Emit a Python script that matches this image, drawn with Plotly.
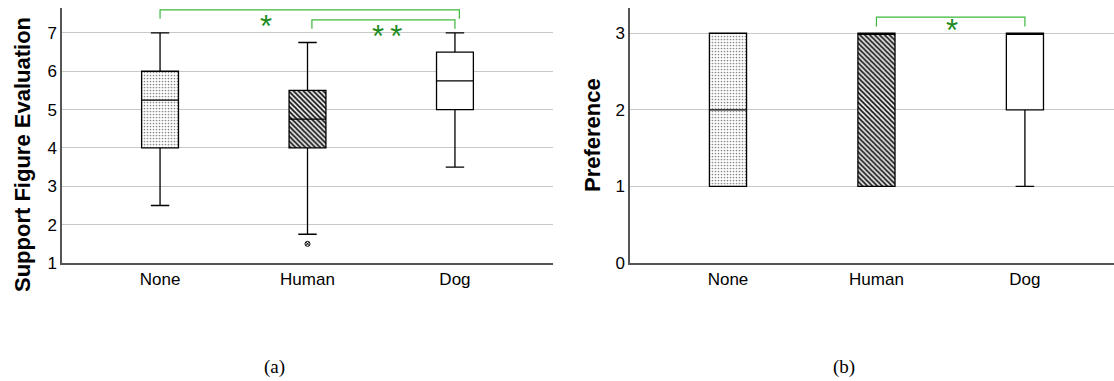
import plotly.graph_objects as go

# ---------------- data ----------------
categories = ["None", "Human", "Dog"]

# (a) Support Figure Evaluation
a_lower = [2.5, 1.75, 3.5]
a_q1 = [4.0, 4.0, 5.0]
a_median = [5.25, 4.75, 5.75]
a_q3 = [6.0, 5.5, 6.5]
a_upper = [7.0, 6.75, 7.0]
a_outlier_cat = [1]
a_outlier_val = [1.5]
a_ticks = [1, 2, 3, 4, 5, 6, 7]
a_sig = [(0, 2, "*"), (1, 2, "*\u2009*")]

# (b) Preference
b_lower = [1.0, 1.0, 1.0]
b_q1 = [1.0, 1.0, 2.0]
b_median = [2.0, 3.0, 3.0]
b_q3 = [3.0, 3.0, 3.0]
b_upper = [3.0, 3.0, 3.0]
b_ticks = [0, 1, 2, 3]
b_sig = [(1, 2, "*")]

# ---------------- style ----------------
SANS = "Liberation Sans, Arial, sans-serif"
SERIF = "Liberation Serif, Times New Roman, serif"
patterns = [
    dict(shape=".", fgcolor="#8a8a8a", bgcolor="white", size=3, solidity=0.25),
    dict(shape="\\", fgcolor="#111111", bgcolor="white", size=3.5, solidity=0.55),
    dict(shape="", fgcolor="white", bgcolor="white"),
]
BOXW = 0.25
BR_COLOR = "#3cb83c"
STAR_COLOR = "#1e8c1e"

fig = go.Figure()
xs = list(range(len(categories)))


def add_panel(xa, ya, lower, q1, med, q3, upper):
    for i in xs:
        fig.add_trace(go.Bar(
            x=[i], y=[q3[i] - q1[i]], base=[q1[i]], width=BOXW,
            marker=dict(color="white", pattern=patterns[i], line=dict(width=0)),
            xaxis=xa, yaxis=ya, showlegend=False, hoverinfo="skip"))
    fig.add_trace(go.Box(
        x=xs, q1=q1, median=med, q3=q3, lowerfence=lower, upperfence=upper,
        width=BOXW, whiskerwidth=0.5, fillcolor="rgba(0,0,0,0)",
        line=dict(color="black", width=1.3), boxpoints=False,
        xaxis=xa, yaxis=ya, showlegend=False))


add_panel("x", "y", a_lower, a_q1, a_median, a_q3, a_upper)
add_panel("x2", "y2", b_lower, b_q1, b_median, b_q3, b_upper)

fig.add_trace(go.Scatter(
    x=a_outlier_cat, y=a_outlier_val, mode="markers",
    marker=dict(symbol="circle-x-open", size=5, color="black", line=dict(width=1)),
    xaxis="x", yaxis="y", showlegend=False))


def add_brackets(xref, yref, sig, top, leg, step, star_off, star_dx):
    for k, (i, j, txt) in enumerate(sig):
        yb = top - k * step
        jr = j + (0.03 if k == 0 and len(sig) > 1 else 0)
        il = i + (0.03 if k == 1 else 0)
        fig.add_shape(type="path", xref=xref, yref=yref,
                      path=f"M {il},{yb - leg} L {il},{yb} L {jr},{yb} L {jr},{yb - leg}",
                      line=dict(color=BR_COLOR, width=1.2))
        xm = (i + j) / 2 + star_dx[k] if len(sig) == 1 or k > 0 else i + 0.72
        fig.add_annotation(x=xm, y=yb - star_off, xref=xref, yref=yref,
                           text=txt, showarrow=False,
                           font=dict(family=SANS, size=31, color=STAR_COLOR),
                           yanchor="middle", xanchor="center")


add_brackets("x", "y", a_sig, 7.6, 0.23, 0.26, 0.43, [0, 0.04])
add_brackets("x2", "y2", b_sig, 3.21, 0.12, 0.0, 0.17, [0.01])

axis_common = dict(showgrid=False, showline=True, linecolor="#555555", linewidth=1.5,
                   tickfont=dict(family=SANS, size=17, color="black"), ticks="",
                   zeroline=False, automargin=False)
yaxis_common = dict(showgrid=True, gridcolor="#c8c8c8", gridwidth=1.2, showline=True,
                    linecolor="#555555", linewidth=1.5, ticks="", zeroline=False,
                    automargin=False,
                    tickfont=dict(family=SANS, size=17, color="black"))

fig.update_layout(
    template="none",
    width=1114, height=381, margin=dict(l=0, r=0, t=0, b=0),
    plot_bgcolor="white", paper_bgcolor="white", barmode="overlay", bargap=0,
    xaxis=dict(domain=[62 / 1114, 553 / 1114], range=[-0.665, 2.665],
               tickvals=xs, ticktext=categories, anchor="y", **axis_common),
    yaxis=dict(domain=[118 / 381, 373 / 381], range=[1, 7.65], tickvals=a_ticks,
               anchor="x", **yaxis_common),
    xaxis2=dict(domain=[630 / 1114, 1.0], range=[-0.66, 2.6],
                tickvals=xs, ticktext=categories, anchor="y2", **axis_common),
    yaxis2=dict(domain=[118 / 381, 373 / 381], range=[0, 3.33], tickvals=b_ticks,
                anchor="x2", **yaxis_common),
)

fig.add_annotation(text="<b>Support Figure Evaluation</b>", textangle=-90,
                   x=22 / 1114, y=(381 - 155) / 381, xref="paper", yref="paper",
                   showarrow=False, xanchor="center", yanchor="middle",
                   font=dict(family=SANS, size=22, color="black"))
fig.add_annotation(text="<b>Preference</b>", textangle=-90,
                   x=592 / 1114, y=(381 - 135) / 381, xref="paper", yref="paper",
                   showarrow=False, xanchor="center", yanchor="middle",
                   font=dict(family=SANS, size=22, color="black"))
fig.add_annotation(text="(a)", x=274 / 1114, y=(381 - 367) / 381, xref="paper", yref="paper",
                   showarrow=False, xanchor="center", yanchor="middle",
                   font=dict(family=SERIF, size=19, color="black"))
fig.add_annotation(text="(b)", x=844 / 1114, y=(381 - 367) / 381, xref="paper", yref="paper",
                   showarrow=False, xanchor="center", yanchor="middle",
                   font=dict(family=SERIF, size=19, color="black"))

fig.write_html("out.html")
